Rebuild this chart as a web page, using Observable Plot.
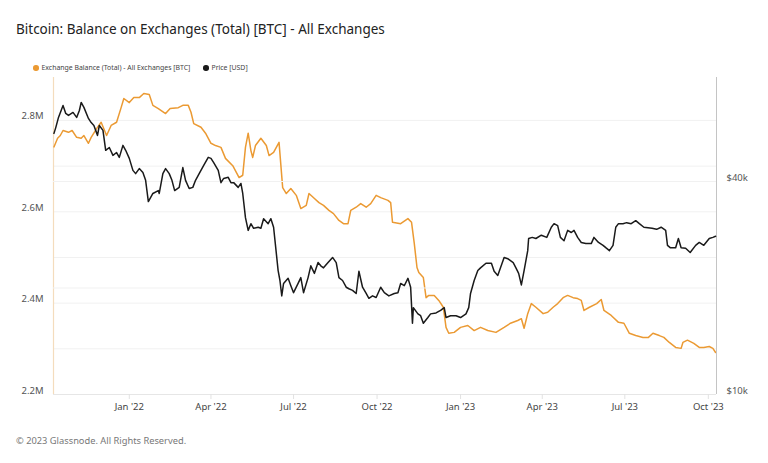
<!DOCTYPE html>
<html><head><meta charset="utf-8">
<script src="https://cdn.jsdelivr.net/npm/d3@7"></script>
<script src="https://cdn.jsdelivr.net/npm/@observablehq/plot@0.6"></script>
<style>
body{margin:0;background:#fff;font-family:"Noto Sans",sans-serif;}
#wrap{position:relative;width:768px;height:463px;overflow:hidden;}
#title{position:absolute;left:16px;top:20px;font-size:13.5px;color:#222;white-space:nowrap;}
.leg{position:absolute;top:62px;font-size:6.9px;color:#444;white-space:nowrap;line-height:12px;}
.dot{display:inline-block;width:5.5px;height:5.5px;border-radius:50%;margin-right:3px;vertical-align:-0.5px;}
.chart{position:absolute;left:0;top:70px;}
#footer{position:absolute;left:16px;top:434px;font-size:9.3px;color:#777;white-space:nowrap;}
</style></head>
<body><div id="wrap">
<div id="title">Bitcoin: Balance on Exchanges (Total) [BTC] - All Exchanges</div>
<div class="leg" style="left:33px"><span class="dot" style="background:#eb9a33"></span>Exchange Balance (Total) - All Exchanges [BTC]</div>
<div class="leg" style="left:203px"><span class="dot" style="background:#1a1a1a"></span>Price [USD]</div>
<div id="c1" class="chart"></div>
<div id="c2" class="chart"></div>
<div id="footer">© 2023 Glassnode. All Rights Reserved.</div>
</div>
<script>
const balanceDates = ["2021-10-10","2021-10-14","2021-10-17","2021-10-20","2021-10-26","2021-10-30","2021-11-04","2021-11-09","2021-11-12","2021-11-17","2021-11-20","2021-11-26","2021-12-01","2021-12-07","2021-12-12","2021-12-18","2021-12-23","2021-12-26",
"2022-01-01","2022-01-06","2022-01-12","2022-01-17","2022-01-23","2022-01-27","2022-02-02","2022-02-10","2022-02-15","2022-02-24","2022-03-01","2022-03-07","2022-03-10","2022-03-13","2022-03-21","2022-03-26","2022-04-01","2022-04-06","2022-04-12","2022-04-17","2022-04-25","2022-05-02","2022-05-06","2022-05-09","2022-05-12","2022-05-15","2022-05-17","2022-05-20","2022-05-26","2022-06-01","2022-06-04","2022-06-09","2022-06-15","2022-06-19","2022-06-23","2022-06-28","2022-07-04","2022-07-09","2022-07-15","2022-07-18","2022-07-24","2022-07-29","2022-08-03","2022-08-09","2022-08-14","2022-08-20","2022-08-25","2022-08-30","2022-09-02","2022-09-08","2022-09-13","2022-09-19","2022-09-24","2022-09-30","2022-10-05","2022-10-13","2022-10-16","2022-10-18","2022-10-27","2022-11-04","2022-11-08","2022-11-11","2022-11-14","2022-11-16","2022-11-21","2022-11-24","2022-11-27","2022-12-03","2022-12-08","2022-12-13","2022-12-16","2022-12-19","2022-12-25",
"2023-01-01","2023-01-09","2023-01-16","2023-01-23","2023-01-31","2023-02-09","2023-02-18","2023-02-25","2023-03-05","2023-03-09","2023-03-12","2023-03-16","2023-03-20","2023-03-25","2023-04-02","2023-04-07","2023-04-13","2023-04-18","2023-04-24","2023-04-29","2023-05-05","2023-05-10","2023-05-14","2023-05-17","2023-05-23","2023-05-31","2023-06-05","2023-06-08","2023-06-16","2023-06-24","2023-06-30","2023-07-06","2023-07-13","2023-07-21","2023-07-27","2023-08-01","2023-08-08","2023-08-13","2023-08-19","2023-08-26","2023-09-01","2023-09-03","2023-09-08","2023-09-15","2023-09-21","2023-09-26","2023-10-02","2023-10-06","2023-10-09"];
const balanceValues = [2.742,2.761,2.767,2.778,2.774,2.778,2.763,2.761,2.767,2.750,2.763,2.782,2.796,2.767,2.789,2.796,2.828,2.848,
2.839,2.850,2.850,2.859,2.857,2.833,2.826,2.815,2.826,2.828,2.833,2.833,2.818,2.793,2.785,2.772,2.750,2.745,2.741,2.717,2.701,2.675,2.680,2.741,2.772,2.734,2.719,2.745,2.761,2.745,2.723,2.730,2.752,2.653,2.640,2.651,2.636,2.607,2.614,2.640,2.629,2.620,2.614,2.603,2.596,2.581,2.574,2.574,2.603,2.610,2.618,2.610,2.618,2.636,2.631,2.625,2.620,2.577,2.574,2.585,2.577,2.531,2.478,2.467,2.456,2.412,2.417,2.417,2.406,2.391,2.347,2.334,2.336,
2.347,2.351,2.340,2.347,2.340,2.336,2.347,2.356,2.362,2.366,2.345,2.377,2.399,2.391,2.377,2.380,2.391,2.399,2.412,2.417,2.412,2.410,2.406,2.384,2.391,2.399,2.408,2.384,2.373,2.358,2.356,2.334,2.329,2.325,2.325,2.334,2.329,2.325,2.314,2.303,2.301,2.314,2.319,2.312,2.303,2.303,2.305,2.301,2.292];

const priceDates = ["2021-10-10","2021-10-12","2021-10-15","2021-10-20","2021-10-23","2021-10-26","2021-10-31","2021-11-04","2021-11-07","2021-11-09","2021-11-12","2021-11-17","2021-11-20","2021-11-23","2021-11-27","2021-11-29","2021-12-03","2021-12-06","2021-12-10","2021-12-14","2021-12-18","2021-12-21","2021-12-25","2021-12-28",
"2022-01-01","2022-01-05","2022-01-08","2022-01-12","2022-01-16","2022-01-19","2022-01-22","2022-01-27","2022-02-02","2022-02-03","2022-02-07","2022-02-10","2022-02-14","2022-02-17","2022-02-20","2022-02-25","2022-03-01","2022-03-04","2022-03-08","2022-03-12","2022-03-15","2022-03-19","2022-03-24","2022-03-29","2022-04-01","2022-04-04","2022-04-09","2022-04-12","2022-04-15","2022-04-20","2022-04-23","2022-04-26","2022-05-01","2022-05-04","2022-05-06","2022-05-09","2022-05-12","2022-05-15","2022-05-18","2022-05-23","2022-05-26","2022-05-29","2022-06-03","2022-06-06","2022-06-09","2022-06-14","2022-06-16","2022-06-18","2022-06-20","2022-06-25","2022-06-28","2022-07-01","2022-07-06","2022-07-09","2022-07-12","2022-07-17","2022-07-20","2022-07-24","2022-07-28","2022-07-31","2022-08-03","2022-08-08","2022-08-13","2022-08-17","2022-08-20","2022-08-24","2022-08-28","2022-08-31","2022-09-04","2022-09-08","2022-09-11","2022-09-15","2022-09-19","2022-09-22","2022-09-26","2022-09-30","2022-10-05","2022-10-09","2022-10-14","2022-10-20","2022-10-24","2022-10-27","2022-10-31","2022-11-04","2022-11-07","2022-11-09","2022-11-10","2022-11-15","2022-11-18","2022-11-21","2022-11-26","2022-11-29","2022-12-05","2022-12-10","2022-12-14","2022-12-16","2022-12-21","2022-12-27",
"2023-01-01","2023-01-07","2023-01-10","2023-01-12","2023-01-16","2023-01-20","2023-01-23","2023-01-29","2023-02-04","2023-02-07","2023-02-11","2023-02-14","2023-02-18","2023-02-22","2023-02-28","2023-03-03","2023-03-06","2023-03-09","2023-03-12","2023-03-16","2023-03-17","2023-03-21","2023-03-25","2023-03-31","2023-04-06","2023-04-11","2023-04-14","2023-04-18","2023-04-21","2023-04-25","2023-04-29","2023-05-03","2023-05-06","2023-05-10","2023-05-14","2023-05-19","2023-05-25","2023-05-28","2023-06-02","2023-06-07","2023-06-10","2023-06-14","2023-06-18","2023-06-21","2023-06-24","2023-06-29","2023-07-03","2023-07-08","2023-07-13","2023-07-17","2023-07-22","2023-07-31","2023-08-05","2023-08-10","2023-08-15","2023-08-17","2023-08-20","2023-08-26","2023-08-29","2023-09-01","2023-09-06","2023-09-11","2023-09-17","2023-09-21","2023-09-26","2023-10-02","2023-10-06","2023-10-09"];
const priceValues = [54700,56800,60700,65600,62300,61500,62700,60700,63500,66900,64800,60300,58700,57600,54000,57600,55800,49000,49900,47400,48300,46800,50600,49000,
46500,43000,42100,43500,42400,40300,35100,37000,37700,37000,42100,43500,42100,40300,37700,38500,43800,40300,38200,38500,40300,42100,44400,46800,46500,45200,43000,39700,40800,41100,39700,39700,38500,39500,37000,31600,29100,30400,29500,29700,29500,31400,30400,31400,29700,22400,21000,19000,20600,21300,20300,19400,20600,21400,19400,21400,23100,22000,23600,23100,22800,23600,24400,23600,21400,21000,20100,19900,19700,19300,22300,20100,19300,18700,19000,18800,20100,19400,19000,19300,19400,20600,20300,21300,20100,15900,17600,16900,16700,15900,16500,16900,17000,17300,17600,16500,16700,16700,
16500,16900,17600,19300,21000,22400,22800,23500,23500,22300,21700,22800,24400,24200,23600,22800,22000,20400,22400,25500,27600,27800,27600,28200,27800,29700,30400,30000,27800,27200,29100,28700,29100,27800,26900,26700,26700,27800,26900,26400,26000,25500,26400,29700,30400,30400,30600,30400,31000,30400,29700,29500,29300,29700,29100,26400,26000,26000,27600,26000,25900,25200,26400,26900,26400,27600,27800,28000];

const xTickDates = ["2022-01-01","2022-04-01","2022-07-01","2022-10-01","2023-01-01","2023-04-01","2023-07-01","2023-10-01"];
const balanceTicks = [2.2, 2.4, 2.6, 2.8];
const balanceGrid = [2.3, 2.4, 2.5, 2.6, 2.7, 2.8];
const priceTicks = [10000, 40000];
const priceGrid = [20000, 40000];

const FONT = "'Noto Sans', sans-serif";
const W = 768, H = 354;
const common = {width: W, height: H, marginTop: 7, marginBottom: 30, marginLeft: 53, marginRight: 52};
const xDomain = [new Date("2021-10-09T12:00:00Z"), new Date("2023-10-10T00:00:00Z")];

const bal = balanceDates.map((d, i) => ({date: new Date(d), value: balanceValues[i] * 1e6}));
const price = priceDates.map((d, i) => ({date: new Date(d), value: priceValues[i]}));

const p1 = Plot.plot({
  ...common,
  style: {fontFamily: FONT, fontSize: "9.5px", color: "#555", background: "transparent", overflow: "visible"},
  x: {type: "utc", domain: xDomain},
  y: {domain: [2.2e6, 2.894e6]},
  marks: [
    Plot.gridY(balanceGrid.map(v => v * 1e6), {stroke: "#f1f1f1", strokeOpacity: 1}),
    Plot.ruleY([2.2e6], {stroke: "#e6e6e6"}),
    Plot.axisY(balanceTicks.map(v => v * 1e6), {label: null, tickSize: 0, tickPadding: 10, dy: -4, tickFormat: d => (d / 1e6).toFixed(1) + "M", fill: "#555"}),
    Plot.axisX(xTickDates.map(d => new Date(d)), {label: null, tickSize: 5, stroke: "#e2e2e2", tickPadding: 4, tickFormat: d3.utcFormat("%b '%y"), fill: "#444"}),
    Plot.ruleX([xDomain[0]], {stroke: "#f4dcbd", strokeWidth: 1.2}),
    Plot.line(bal, {x: "date", y: "value", stroke: "#eb9a33", strokeWidth: 1.5})
  ]
});
document.getElementById("c1").append(p1);

const p2 = Plot.plot({
  ...common,
  style: {fontFamily: FONT, fontSize: "9.5px", color: "#555", background: "transparent", overflow: "visible"},
  x: {type: "utc", domain: xDomain, axis: null},
  y: {type: "log", domain: [10000, 78700]},
  marks: [
    Plot.gridY(priceGrid, {stroke: "#f1f1f1", strokeOpacity: 1}),
    Plot.axisY(priceTicks, {label: null, anchor: "right", tickSize: 0, tickPadding: 10, dy: -4, tickFormat: d => "$" + (d / 1000) + "k", fill: "#555"}),
    Plot.ruleX([xDomain[1]], {stroke: "#c4c4c4", strokeWidth: 1}),
    Plot.line(price, {x: "date", y: "value", stroke: "#1a1a1a", strokeWidth: 1.5})
  ]
});
document.getElementById("c2").append(p2);
</script>
</body></html>
